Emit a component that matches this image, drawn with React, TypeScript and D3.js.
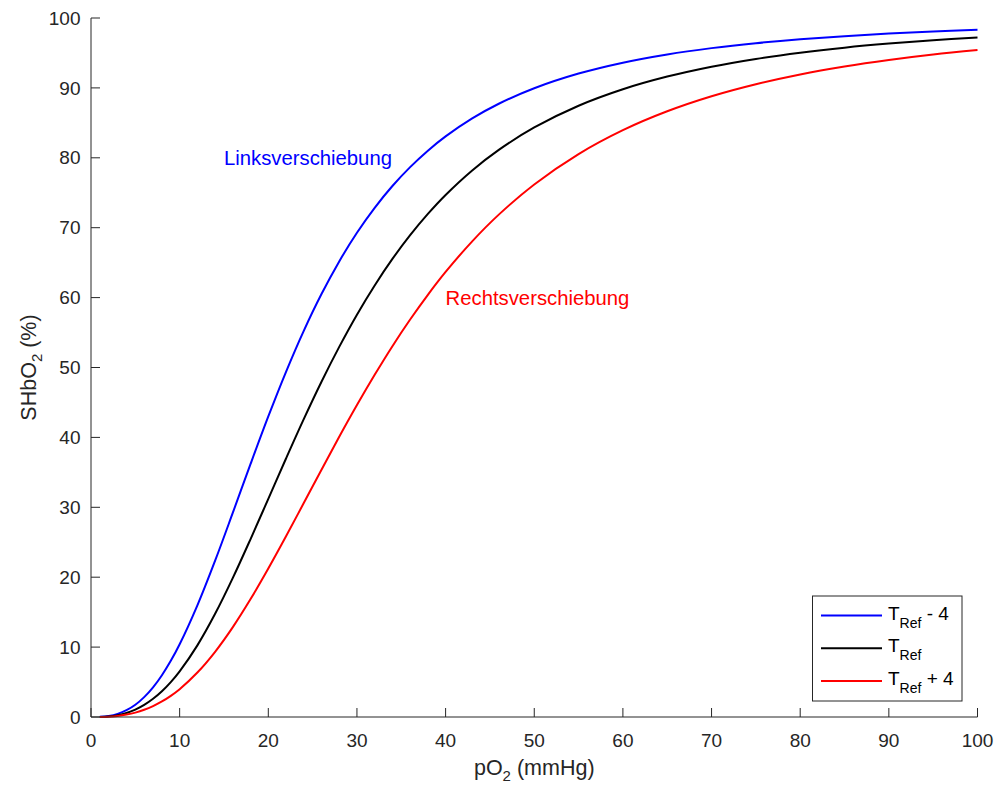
import React from "react";
import * as d3 from "d3";

// Oxygen saturation of haemoglobin vs. oxygen partial pressure at three temperatures
const pO2 = [1, 2, 3, 4, 5, 6, 7, 8, 9, 10, 12, 14, 16, 18, 20, 22, 24, 26, 28, 30, 32, 34, 36, 38, 40, 43, 46, 50, 55, 60, 65, 70, 75, 80, 85, 90, 95, 100];

const satCold = [0.02, 0.15, 0.45, 0.97, 1.75, 2.84, 4.24, 5.98, 8.03, 10.4, 15.97, 22.36, 29.23, 36.21, 43.0, 49.39, 55.25, 60.51, 65.18, 69.28, 72.85, 75.97, 78.67, 81.02, 83.06, 85.63, 87.73, 89.95, 92.05, 93.61, 94.79, 95.69, 96.4, 96.96, 97.4, 97.77, 98.06, 98.31];
const satRef = [0.01, 0.09, 0.27, 0.58, 1.06, 1.73, 2.6, 3.68, 4.99, 6.53, 10.25, 14.76, 19.9, 25.46, 31.21, 36.98, 42.61, 47.96, 52.95, 57.56, 61.74, 65.53, 68.93, 71.97, 74.68, 78.19, 81.13, 84.34, 87.45, 89.81, 91.62, 93.04, 94.15, 95.04, 95.76, 96.34, 96.82, 97.22];
const satWarm = [0.01, 0.05, 0.16, 0.35, 0.63, 1.03, 1.56, 2.22, 3.03, 3.98, 6.36, 9.33, 12.86, 16.87, 21.24, 25.85, 30.61, 35.38, 40.08, 44.62, 48.95, 53.05, 56.86, 60.4, 63.67, 68.05, 71.87, 76.19, 80.54, 83.96, 86.66, 88.81, 90.53, 91.93, 93.06, 93.99, 94.77, 95.41];

const xTicks = [0, 10, 20, 30, 40, 50, 60, 70, 80, 90, 100];
const yTicks = [0, 10, 20, 30, 40, 50, 60, 70, 80, 90, 100];

const series = [
  { name: "cold", values: satCold, color: "#0000ff", suffix: " - 4" },
  { name: "ref", values: satRef, color: "#000000", suffix: "" },
  { name: "warm", values: satWarm, color: "#ff0000", suffix: " + 4" },
];

const W = 996;
const H = 787;
const FONT = "'Liberation Sans', Arial, Helvetica, sans-serif";
const AXIS = "#262626";

export default function App() {
  const x = d3.scaleLinear().domain([0, 100]).range([91, 977.5]);
  const y = d3.scaleLinear().domain([0, 100]).range([717, 18]);

  const line = d3
    .line<[number, number]>()
    .x((d) => x(d[0]))
    .y((d) => y(d[1]))
    .curve(d3.curveCatmullRom.alpha(0.5));

  const tickLen = 9;

  return (
    <svg
      width={W}
      height={H}
      style={{ position: "absolute", left: 0, top: 0, background: "#fff" }}
      fontFamily={FONT}
    >
      <rect x={0} y={0} width={W} height={H} fill="#fff" />

      {/* curves */}
      {series.map((s) => (
        <path
          key={s.name}
          d={line(pO2.map((p, i) => [p, s.values[i]] as [number, number])) || ""}
          fill="none"
          stroke={s.color}
          strokeWidth={2}
        />
      ))}

      {/* axes */}
      <line x1={x(0)} x2={x(0)} y1={y(100)} y2={y(0)} stroke={AXIS} strokeWidth={1} />
      <line x1={x(0)} x2={x(100)} y1={y(0)} y2={y(0)} stroke={AXIS} strokeWidth={1} />

      {xTicks.map((t) => (
        <g key={"xt" + t}>
          <line x1={x(t)} x2={x(t)} y1={y(0)} y2={y(0) - tickLen} stroke={AXIS} strokeWidth={1} />
          <text x={x(t)} y={747} textAnchor="middle" fontSize={19} fill={AXIS}>
            {t}
          </text>
        </g>
      ))}
      {yTicks.map((t) => (
        <g key={"yt" + t}>
          <line x1={x(0)} x2={x(0) + tickLen} y1={y(t)} y2={y(t)} stroke={AXIS} strokeWidth={1} />
          <text x={80.5} y={y(t)} dy="0.35em" textAnchor="end" fontSize={19} fill={AXIS}>
            {t}
          </text>
        </g>
      ))}

      {/* axis labels */}
      <text x={(x(0) + x(100)) / 2} y={775} textAnchor="middle" fontSize={21.5} fill={AXIS}>
        pO
        <tspan fontSize={15} dy={6}>2</tspan>
        <tspan dy={-6}> (mmHg)</tspan>
      </text>
      <text
        transform={`translate(36, ${(y(0) + y(100)) / 2}) rotate(-90)`}
        textAnchor="middle"
        fontSize={21.5}
        fill={AXIS}
      >
        SHbO
        <tspan fontSize={15} dy={6}>2</tspan>
        <tspan dy={-6}> (%)</tspan>
      </text>

      {/* annotations */}
      <text x={x(15)} y={y(80)} dy="0.35em" fontSize={20.3} fill="#0000ff">
        Linksverschiebung
      </text>
      <text x={x(40)} y={y(60)} dy="0.35em" fontSize={20.3} fill="#ff0000">
        Rechtsverschiebung
      </text>

      {/* legend */}
      <g>
        <rect x={812.5} y={596} width={149.5} height={105} fill="#fff" stroke={AXIS} strokeWidth={1} />
        {series.map((s, i) => {
          const ly = 615.5 + i * 32.7;
          return (
            <g key={"lg" + s.name}>
              <line x1={821} x2={882} y1={ly} y2={ly} stroke={s.color} strokeWidth={2} />
              <text x={888} y={ly + 4} fontSize={19} fill="#000">
                T
                <tspan fontSize={14} dy={8}>Ref</tspan>
                <tspan dy={-8}>{s.suffix}</tspan>
              </text>
            </g>
          );
        })}
      </g>
    </svg>
  );
}
